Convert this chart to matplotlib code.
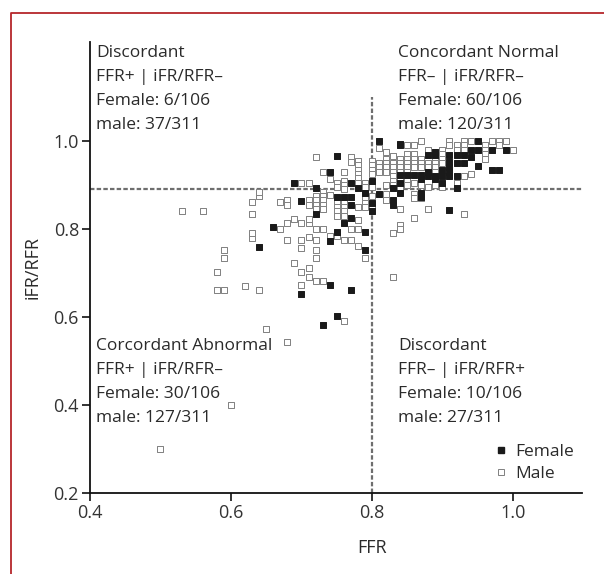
import matplotlib
matplotlib.use("Agg")
import matplotlib.pyplot as plt
from matplotlib.lines import Line2D

plt.rcParams['font.family'] = ['Open Sans', 'DejaVu Sans']

# ---------------- data ----------------
female_ffr = [0.81, 0.84, 0.75, 0.74, 0.69, 0.77, 0.72, 0.78, 0.79, 0.80, 0.81, 0.75, 0.76, 0.77,
              0.70, 0.77, 0.72, 0.77, 0.76, 0.66, 0.75, 0.79, 0.74, 0.64, 0.79, 0.74, 0.77, 0.70,
              0.75, 0.73, 0.80, 0.80,
              0.95, 0.95, 0.94, 0.97, 0.99, 0.88, 0.89, 0.91, 0.92, 0.93, 0.91, 0.92, 0.93, 0.91,
              0.91, 0.91, 0.94, 0.95, 0.97, 0.98, 0.84, 0.85, 0.86, 0.87, 0.88, 0.88, 0.89, 0.90,
              0.92, 0.87, 0.89, 0.84, 0.90, 0.83, 0.92, 0.84, 0.87, 0.83, 0.83, 0.87, 0.91, 0.90,
              0.84, 0.89]
female_ifr = [1.00, 0.99, 0.965, 0.93, 0.905, 0.905, 0.893, 0.893, 0.882, 0.91, 0.88, 0.873, 0.873, 0.873,
              0.864, 0.855, 0.834, 0.825, 0.814, 0.805, 0.793, 0.793, 0.773, 0.76, 0.752, 0.673, 0.661, 0.652,
              0.602, 0.582, 0.86, 0.84,
              1.00, 0.98, 0.98, 0.98, 0.98, 0.968, 0.968, 0.968, 0.968, 0.968, 0.952, 0.95, 0.95, 0.94,
              0.93, 0.92, 0.964, 0.943, 0.934, 0.934, 0.923, 0.923, 0.923, 0.923, 0.93, 0.92, 0.92, 0.92,
              0.92, 0.914, 0.914, 0.905, 0.905, 0.893, 0.893, 0.882, 0.882, 0.865, 0.855, 0.873, 0.843, 0.934,
              0.993, 0.975]

male_ffr = [
    # x < 0.8 upper
    0.72, 0.77, 0.77, 0.78, 0.78, 0.78, 0.78, 0.78, 0.78, 0.73, 0.76, 0.74, 0.76, 0.76, 0.76,
    0.70, 0.71, 0.75, 0.75, 0.79, 0.79, 0.79, 0.79, 0.79, 0.79,
    # x < 0.8 around / below threshold
    0.73, 0.73, 0.73, 0.73, 0.73, 0.72, 0.72, 0.72, 0.72, 0.74, 0.75, 0.75, 0.75, 0.75,
    0.76, 0.76, 0.76, 0.76, 0.78, 0.67, 0.68, 0.68, 0.71, 0.71,
    0.67, 0.68, 0.69, 0.70, 0.71, 0.71, 0.72, 0.73, 0.74, 0.75, 0.77, 0.78, 0.78,
    0.68, 0.70, 0.70, 0.71, 0.72, 0.76, 0.77, 0.78, 0.72, 0.72, 0.79, 0.69, 0.71, 0.70,
    0.71, 0.72, 0.73, 0.70, 0.76, 0.65, 0.68,
    # left outliers
    0.53, 0.56, 0.63, 0.64, 0.64, 0.63, 0.63, 0.63, 0.59, 0.59, 0.58, 0.58, 0.59, 0.62,
    0.64, 0.60, 0.50,
    # x = 0.80
    0.80, 0.80, 0.80, 0.80, 0.80, 0.80, 0.80,
    # x > 0.8
    0.81, 0.81, 0.81, 0.81,
    0.82, 0.82, 0.82, 0.82, 0.82, 0.82, 0.82, 0.82,
    0.83, 0.83, 0.83, 0.83, 0.83, 0.83, 0.83, 0.83, 0.83,
    0.84, 0.84, 0.84, 0.84, 0.84, 0.84, 0.84, 0.84, 0.84,
    0.85, 0.85, 0.85, 0.85, 0.85, 0.85, 0.85, 0.85,
    0.86, 0.86, 0.86, 0.86, 0.86, 0.86, 0.86, 0.86, 0.86,
    0.87, 0.87, 0.87, 0.87, 0.87, 0.87,
    0.88, 0.88, 0.88, 0.88, 0.88,
    0.89, 0.89, 0.89, 0.89, 0.89,
    0.90, 0.90, 0.90, 0.90, 0.90,
    0.91, 0.91,
    0.92, 0.92, 0.92,
    0.93, 0.93, 0.93, 0.93, 0.93,
    0.94, 0.94,
    0.96, 0.96, 0.96, 0.96,
    0.97, 0.98, 0.98, 0.99, 1.00,
]
male_ifr = [
    0.964, 0.964, 0.953, 0.955, 0.945, 0.935, 0.925, 0.915, 0.905, 0.93, 0.93, 0.914, 0.91, 0.90, 0.89,
    0.905, 0.905, 0.905, 0.895, 0.905, 0.895, 0.88, 0.87, 0.86, 0.85,
    0.885, 0.875, 0.865, 0.855, 0.845, 0.875, 0.865, 0.855, 0.845, 0.877, 0.86, 0.85, 0.84, 0.83,
    0.86, 0.85, 0.84, 0.83, 0.85, 0.862, 0.865, 0.855, 0.865, 0.855,
    0.80, 0.813, 0.822, 0.813, 0.813, 0.822, 0.80, 0.80, 0.783, 0.783, 0.80, 0.80, 0.82,
    0.775, 0.775, 0.757, 0.782, 0.775, 0.775, 0.775, 0.762, 0.752, 0.734, 0.734, 0.722, 0.711, 0.702,
    0.691, 0.682, 0.682, 0.673, 0.591, 0.573, 0.543,
    0.841, 0.841, 0.862, 0.875, 0.885, 0.834, 0.78, 0.79, 0.752, 0.734, 0.702, 0.661, 0.661, 0.67,
    0.661, 0.40, 0.30,
    0.955, 0.945, 0.935, 0.925, 0.895, 0.875, 0.855,
    0.985, 0.95, 0.94, 0.93,
    0.975, 0.96, 0.95, 0.94, 0.93, 0.90, 0.88, 0.865,
    0.965, 0.95, 0.94, 0.93, 0.92, 0.91, 0.90, 0.79, 0.69,
    0.96, 0.95, 0.94, 0.93, 0.91, 0.895, 0.845, 0.81, 0.80,
    0.99, 0.97, 0.96, 0.95, 0.94, 0.93, 0.91, 0.90,
    0.99, 0.97, 0.96, 0.95, 0.94, 0.905, 0.88, 0.87, 0.825,
    1.00, 0.96, 0.95, 0.94, 0.90, 0.87,
    0.98, 0.95, 0.94, 0.895, 0.845,
    0.96, 0.95, 0.94, 0.93, 0.90,
    0.98, 0.97, 0.96, 0.95, 0.895,
    1.00, 0.99,
    0.99, 0.98, 0.905,
    1.00, 0.99, 0.98, 0.92, 0.835,
    1.00, 0.925,
    0.99, 0.98, 0.97, 0.96,
    1.00, 1.00, 0.99, 1.00, 0.98,
]

ffr_cut = 0.80
ifr_cut = 0.89

x_ticks = [0.4, 0.6, 0.8, 1.0]
y_ticks = [0.2, 0.4, 0.6, 0.8, 1.0]

quadrant_texts = [
    "Discordant\nFFR+ | iFR/RFR\u2013\nFemale: 6/106\nmale: 37/311",
    "Concordant Normal\nFFR\u2013 | iFR/RFR\u2013\nFemale: 60/106\nmale: 120/311",
    "Corcordant Abnormal\nFFR+ | iFR/RFR\u2013\nFemale: 30/106\nmale: 127/311",
    "Discordant\nFFR\u2013 | iFR/RFR+\nFemale: 10/106\nmale: 27/311",
]

# ---------------- figure ----------------
W, H = 604, 574
fig = plt.figure(figsize=(W / 100, H / 100), dpi=100)
ax = fig.add_axes([90 / W, 1 - 493 / H, (582 - 90) / W, (493 - 42) / H])

ax.set_xlim(0.4, 1.098)
ax.set_ylim(0.2, 1.225)

ax.plot([ffr_cut, ffr_cut], [0.2, 1.1], linestyle=(0, (2, 1)), color='#6e6e6e', lw=1.6, zorder=1)
ax.plot([0.4, 1.098], [ifr_cut, ifr_cut], linestyle=(0, (2, 1)), color='#6e6e6e', lw=1.6, zorder=1)

ax.scatter(male_ffr, male_ifr, marker='s', s=14, facecolor='white', edgecolor='#808080',
           linewidths=0.7, zorder=2, label='Male')
ax.scatter(female_ffr, female_ifr, marker='s', s=14, facecolor='#1a1a1a', edgecolor='#1a1a1a',
           linewidths=0.7, zorder=3, label='Female')

for s in ['top', 'right']:
    ax.spines[s].set_visible(False)
for s in ['left', 'bottom']:
    ax.spines[s].set_linewidth(1.3)
    ax.spines[s].set_color('#111111')

ax.set_xticks(x_ticks)
ax.set_xticklabels([f"{v:.1f}" for v in x_ticks])
ax.set_yticks(y_ticks)
ax.set_yticklabels([f"{v:.1f}" for v in y_ticks])
ax.tick_params(direction='out', length=6, width=1.2, labelsize=13, colors='#111111',
               labelcolor='#333333', pad=2)

fs = 12.5
tcol = '#2a2a2a'
ls = 1.68
fig.text(96 / W, 1 - 45 / H, quadrant_texts[0], ha='left', va='top', fontsize=fs, color=tcol, linespacing=ls)
fig.text(398 / W, 1 - 45 / H, quadrant_texts[1], ha='left', va='top', fontsize=fs, color=tcol, linespacing=ls)
fig.text(96 / W, 1 - 338 / H, quadrant_texts[2], ha='left', va='top', fontsize=fs, color=tcol, linespacing=ls)
fig.text(398 / W, 1 - 338 / H, quadrant_texts[3], ha='left', va='top', fontsize=fs, color=tcol, linespacing=ls)

fig.text(372 / W, 1 - 548 / H, "FFR", ha='center', va='center', fontsize=13, color=tcol)
fig.text(33 / W, 1 - 268 / H, "iFR/RFR", ha='center', va='center', fontsize=13, color=tcol, rotation=90)

handles = [Line2D([], [], marker='s', ls='none', markersize=4, markerfacecolor='#1a1a1a',
                  markeredgecolor='#1a1a1a', label='Female'),
           Line2D([], [], marker='s', ls='none', markersize=4, markerfacecolor='white',
                  markeredgecolor='#808080', markeredgewidth=0.7, label='Male')]
fig.legend(handles=handles, loc='upper left', bbox_to_anchor=(494 / W, 1 - 444 / H), frameon=False,
           fontsize=12.5, handlelength=0.8, handletextpad=0.4, labelspacing=0.32, borderaxespad=0,
           borderpad=0, labelcolor=tcol)

# red frame (top and left edges)
fig.add_artist(Line2D([11 / W, 11 / W, 1.0], [0.0, 1 - 13 / H, 1 - 13 / H], transform=fig.transFigure,
                      color='#b5262b', lw=1.3))

fig.savefig('out.png', dpi=100)
